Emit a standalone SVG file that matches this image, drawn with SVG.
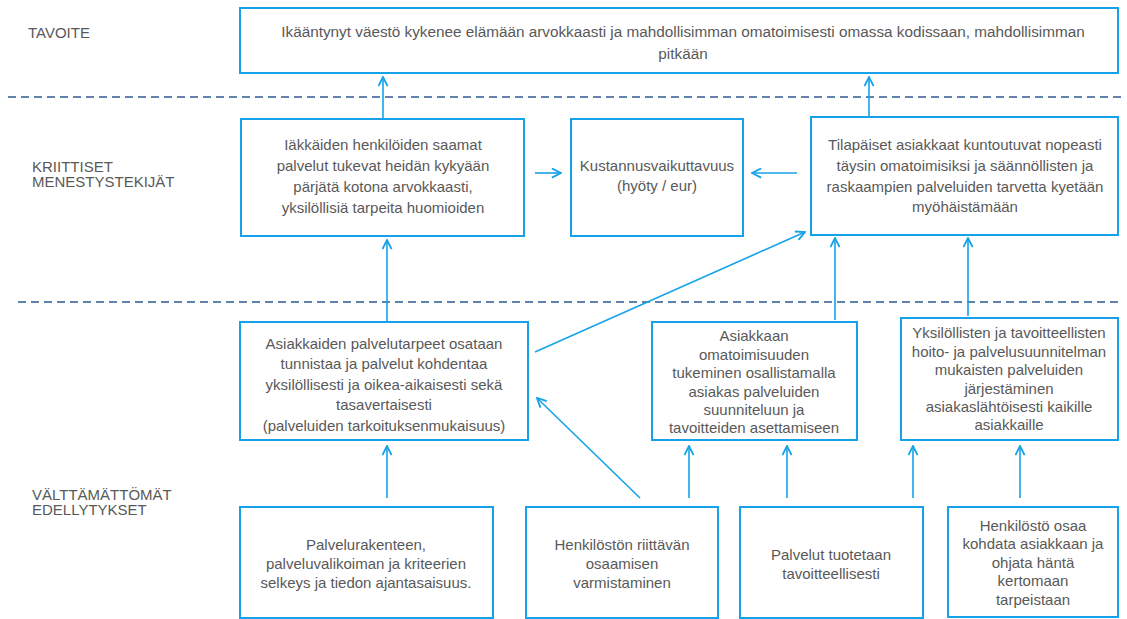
<svg xmlns="http://www.w3.org/2000/svg" width="1127" height="619" viewBox="0 0 1127 619">
<defs>
<style>
.box{fill:#fff;stroke:#16A2E8;stroke-width:2}
.t{font-family:"Liberation Sans",Arial,sans-serif;font-size:15px;fill:#595959;text-anchor:middle}
.lbl{font-family:"Liberation Sans",Arial,sans-serif;font-size:15px;fill:#595959}
.dash{stroke:#2E5A93;stroke-width:1.5;stroke-dasharray:8 5;fill:none}
.arr{stroke:#16A2E8;stroke-width:1.6;fill:none;marker-end:url(#ah)}
</style>
<marker id="ah" viewBox="0 0 12 12" refX="11" refY="6" markerWidth="11" markerHeight="11" orient="auto" markerUnits="userSpaceOnUse">
<path d="M1,1 L11,6 L1,11" fill="none" stroke="#16A2E8" stroke-width="2"/>
</marker>
</defs>
<rect width="1127" height="619" fill="#fff"/>
<g id="labels">
<text class="lbl" x="28" y="38">TAVOITE</text>
<text class="lbl" x="32" y="172">KRIITTISET</text>
<text class="lbl" x="32" y="187">MENESTYSTEKIJÄT</text>
<text class="lbl" x="32" y="500">VÄLTTÄMÄTTÖMÄT</text>
<text class="lbl" x="32" y="515">EDELLYTYKSET</text>
</g>
<g id="dividers">
<line class="dash" x1="8" y1="97" x2="1122" y2="97"/>
<line class="dash" x1="18" y1="302" x2="1122" y2="302"/>
</g>
<g id="connectors">
<line class="arr" x1="383" y1="118" x2="383" y2="77"/>
<line class="arr" x1="869" y1="116" x2="869" y2="77"/>
<line class="arr" x1="535" y1="173" x2="561" y2="173"/>
<line class="arr" x1="797" y1="173" x2="752" y2="173"/>
<line class="arr" x1="387" y1="321" x2="387" y2="240"/>
<line class="arr" x1="535" y1="352" x2="805" y2="232"/>
<line class="arr" x1="835" y1="320" x2="835" y2="238"/>
<line class="arr" x1="968" y1="316" x2="968" y2="238"/>
<line class="arr" x1="387" y1="498" x2="387" y2="446"/>
<line class="arr" x1="640" y1="498" x2="537" y2="398"/>
<line class="arr" x1="689" y1="498" x2="689" y2="446"/>
<line class="arr" x1="787" y1="498" x2="787" y2="446"/>
<line class="arr" x1="913" y1="498" x2="913" y2="446"/>
<line class="arr" x1="1020" y1="498" x2="1020" y2="446"/>
</g>
<g id="goal">
<rect class="box" x="240" y="8" width="878" height="65"/>
<text class="t" x="683" y="37" style="font-size:15.3px">Ikääntynyt väestö kykenee elämään arvokkaasti ja mahdollisimman omatoimisesti omassa kodissaan, mahdollisimman</text>
<text class="t" x="683" y="59" style="font-size:15.3px">pitkään</text>
</g>
<g id="csf1">
<rect class="box" x="241" y="119" width="283" height="117"/>
<text class="t" x="383" y="150">Iäkkäiden henkilöiden saamat</text>
<text class="t" x="383" y="171">palvelut tukevat heidän kykyään</text>
<text class="t" x="383" y="192">pärjätä kotona arvokkaasti,</text>
<text class="t" x="383" y="213">yksilöllisiä tarpeita huomioiden</text>
</g>
<g id="csf2">
<rect class="box" x="571" y="119" width="172" height="117"/>
<text class="t" x="657" y="171">Kustannusvaikuttavuus</text>
<text class="t" x="657" y="191">(hyöty / eur)</text>
</g>
<g id="csf3">
<rect class="box" x="811" y="117" width="307" height="118"/>
<text class="t" x="965" y="150">Tilapäiset asiakkaat kuntoutuvat nopeasti</text>
<text class="t" x="965" y="171">täysin omatoimisiksi ja säännöllisten ja</text>
<text class="t" x="965" y="192">raskaampien palveluiden tarvetta kyetään</text>
<text class="t" x="965" y="212">myöhäistämään</text>
</g>
<g id="req1">
<rect class="box" x="240" y="322" width="288" height="118"/>
<text class="t" x="384" y="349">Asiakkaiden palvelutarpeet osataan</text>
<text class="t" x="384" y="369">tunnistaa ja palvelut kohdentaa</text>
<text class="t" x="384" y="390">yksilöllisesti ja oikea-aikaisesti sekä</text>
<text class="t" x="384" y="410">tasavertaisesti</text>
<text class="t" x="384" y="431">(palveluiden tarkoituksenmukaisuus)</text>
</g>
<g id="req2">
<rect class="box" x="652" y="322" width="205" height="118"/>
<text class="t" x="754" y="341">Asiakkaan</text>
<text class="t" x="754" y="360">omatoimisuuden</text>
<text class="t" x="754" y="378">tukeminen osallistamalla</text>
<text class="t" x="754" y="397">asiakas palveluiden</text>
<text class="t" x="754" y="415">suunniteluun ja</text>
<text class="t" x="754" y="433">tavoitteiden asettamiseen</text>
</g>
<g id="req3">
<rect class="box" x="901" y="318" width="217" height="122"/>
<text class="t" x="1009" y="338">Yksilöllisten ja tavoitteellisten</text>
<text class="t" x="1009" y="357">hoito- ja palvelusuunnitelman</text>
<text class="t" x="1009" y="375">mukaisten palveluiden</text>
<text class="t" x="1009" y="394">järjestäminen</text>
<text class="t" x="1009" y="412">asiakaslähtöisesti kaikille</text>
<text class="t" x="1009" y="430">asiakkaille</text>
</g>
<g id="pre1">
<rect class="box" x="240" y="507" width="253" height="111"/>
<text class="t" x="366" y="550">Palvelurakenteen,</text>
<text class="t" x="366" y="569">palveluvalikoiman ja kriteerien</text>
<text class="t" x="366" y="588">selkeys ja tiedon ajantasaisuus.</text>
</g>
<g id="pre2">
<rect class="box" x="526" y="507" width="192" height="111"/>
<text class="t" x="622" y="550">Henkilöstön riittävän</text>
<text class="t" x="622" y="569">osaamisen</text>
<text class="t" x="622" y="588">varmistaminen</text>
</g>
<g id="pre3">
<rect class="box" x="740" y="507" width="183" height="111"/>
<text class="t" x="831" y="560">Palvelut tuotetaan</text>
<text class="t" x="831" y="579">tavoitteellisesti</text>
</g>
<g id="pre4">
<rect class="box" x="948" y="507" width="170" height="110"/>
<text class="t" x="1033" y="531">Henkilöstö osaa</text>
<text class="t" x="1033" y="549">kohdata asiakkaan ja</text>
<text class="t" x="1033" y="568">ohjata häntä</text>
<text class="t" x="1033" y="586">kertomaan</text>
<text class="t" x="1033" y="605">tarpeistaan</text>
</g>
</svg>
